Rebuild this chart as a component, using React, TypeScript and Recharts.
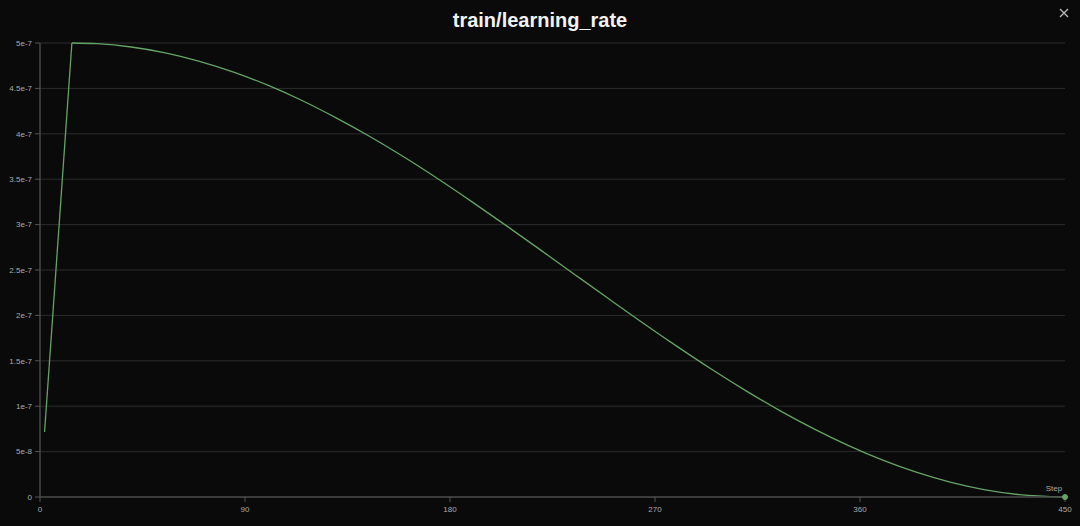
import React from 'react';
import {
  LineChart,
  Line,
  XAxis,
  YAxis,
  CartesianGrid,
  ReferenceDot,
} from 'recharts';

// Logged training steps and the learning rate at each one
const steps = [
  2, 14, 25, 40, 55, 70, 85, 100, 115, 130, 145, 160, 175, 190, 205, 220, 235,
  250, 265, 280, 295, 310, 325, 340, 355, 370, 385, 400, 415, 430, 450,
];
const learningRate = [
  7.15e-8, 5.0e-7, 4.992e-7, 4.956e-7, 4.892e-7, 4.799e-7, 4.68e-7, 4.535e-7,
  4.367e-7, 4.176e-7, 3.968e-7, 3.741e-7, 3.499e-7, 3.245e-7, 2.983e-7,
  2.716e-7, 2.446e-7, 2.177e-7, 1.911e-7, 1.653e-7, 1.404e-7, 1.169e-7,
  9.48e-8, 7.47e-8, 5.65e-8, 4.05e-8, 2.7e-8, 1.61e-8, 7.9e-9, 2.6e-9, 0,
];
// Last step of the linear warmup
const warmupEnd = 14;

// Axis ticks
const xTicks = [0, 90, 180, 270, 360, 450];
const yTicks = [0, 5e-8, 1e-7, 1.5e-7, 2e-7, 2.5e-7, 3e-7, 3.5e-7, 4e-7, 4.5e-7, 5e-7];
const yTickLabels = ['0', '5e-8', '1e-7', '1.5e-7', '2e-7', '2.5e-7', '3e-7', '3.5e-7', '4e-7', '4.5e-7', '5e-7'];

const title = 'train/learning_rate';
const xAxisName = 'Step';

// Warmup is drawn straight, the decay phase as a smooth curve
const data = steps.map((s, i) => ({
  step: s,
  warmup: s <= warmupEnd ? learningRate[i] : undefined,
  decay: s >= warmupEnd ? learningRate[i] : undefined,
}));

const BG = '#0a0a0a';
const LINE = '#66a466';
const TICK_TEXT = '#ababab';
const FONT = '"Liberation Sans", Arial, Helvetica, sans-serif';

const formatY = (v: number) => {
  const idx = yTicks.findIndex((t) => Math.abs(t - v) < 1e-12);
  return idx >= 0 ? yTickLabels[idx] : String(v);
};

const EndLabel = (props: any) => {
  const vb = props.viewBox || {};
  const cx = (vb.x ?? 0) + (vb.width ?? 0) / 2;
  const cy = (vb.y ?? 0) + (vb.height ?? 0) / 2;
  return (
    <text
      x={cx - 11}
      y={cy - 6}
      fill={TICK_TEXT}
      fontSize={8}
      fontFamily={FONT}
      textAnchor="middle"
    >
      {xAxisName}
    </text>
  );
};

export default function App() {
  const lastStep = steps[steps.length - 1];
  const lastLr = learningRate[learningRate.length - 1];
  return (
    <div
      style={{
        position: 'fixed',
        left: 0,
        top: 0,
        width: 1080,
        height: 526,
        background: BG,
        overflow: 'hidden',
        fontFamily: FONT,
      }}
    >
      <div
        style={{
          position: 'absolute',
          left: 0,
          top: 7,
          width: 1080,
          textAlign: 'center',
          color: '#f2f2f2',
          fontWeight: 700,
          fontSize: 20,
          lineHeight: '26px',
        }}
      >
        {title}
      </div>
      <svg
        width={12}
        height={12}
        style={{ position: 'absolute', left: 1058, top: 7 }}
      >
        <line x1={2} y1={2} x2={10} y2={10} stroke="#bdbdbd" strokeWidth={1.3} />
        <line x1={10} y1={2} x2={2} y2={10} stroke="#bdbdbd" strokeWidth={1.3} />
      </svg>
      <div style={{ position: 'absolute', left: 0, top: 0 }}>
        <LineChart
          width={1080}
          height={526}
          data={data}
          margin={{ top: 43, right: 15, bottom: 0, left: 0 }}
        >
          <CartesianGrid vertical={false} stroke="#2c2c2c" strokeWidth={1} />
          <XAxis
            dataKey="step"
            type="number"
            domain={[0, 450]}
            ticks={xTicks}
            height={29}
            tickSize={5}
            tickMargin={4}
            stroke="#474747"
            tick={{ fill: TICK_TEXT, fontSize: 8, fontFamily: FONT }}
            tickLine={{ stroke: '#555' }}
            axisLine={{ stroke: '#474747', strokeWidth: 1.5 }}
          />
          <YAxis
            type="number"
            domain={[0, 5e-7]}
            ticks={yTicks}
            width={40}
            tickSize={5}
            tickMargin={3}
            tickFormatter={formatY}
            tick={{ fill: TICK_TEXT, fontSize: 8, fontFamily: FONT }}
            tickLine={{ stroke: '#555' }}
            axisLine={{ stroke: '#474747', strokeWidth: 1.5 }}
          />
          <Line
            type="linear"
            dataKey="warmup"
            stroke={LINE}
            strokeWidth={1.3}
            dot={false}
            activeDot={false}
            isAnimationActive={false}
          />
          <Line
            type="monotone"
            dataKey="decay"
            stroke={LINE}
            strokeWidth={1.3}
            dot={false}
            activeDot={false}
            isAnimationActive={false}
          />
          <ReferenceDot
            x={lastStep}
            y={lastLr}
            r={2.5}
            fill={LINE}
            stroke={LINE}
            ifOverflow="visible"
            label={<EndLabel />}
          />
        </LineChart>
      </div>
    </div>
  );
}
